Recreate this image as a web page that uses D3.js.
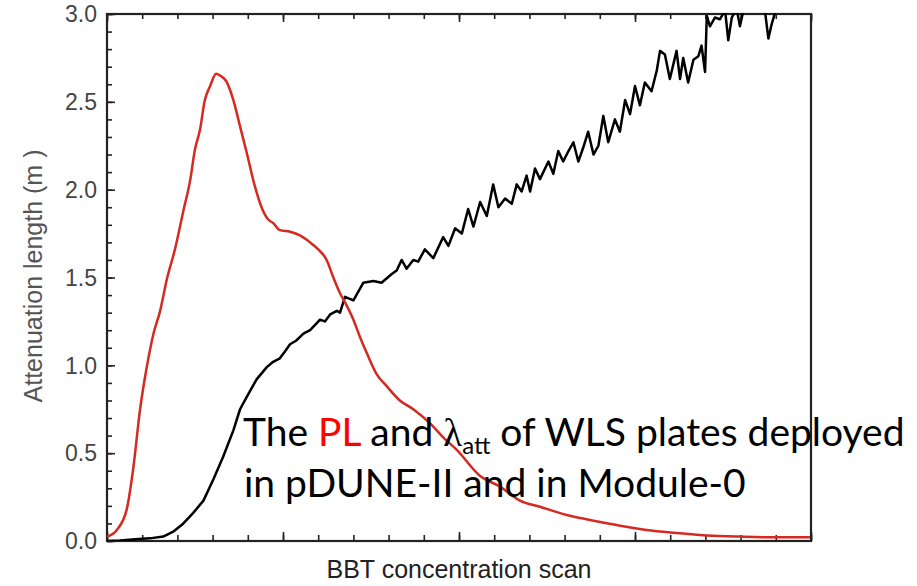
<!DOCTYPE html>
<html><head><meta charset="utf-8">
<script src="https://cdn.jsdelivr.net/npm/d3@7"></script>
<style>html,body{margin:0;padding:0;background:#fff;}svg{display:block;}</style>
</head><body>
<svg id="chart" width="917" height="586"></svg>
<script>
// Data (x: position along the BBT concentration scan, arbitrary units 0-20)
const yTickValues = [0, 0.5, 1.0, 1.5, 2.0, 2.5, 3.0];
const yTickLabels = ["0.0", "0.5", "1.0", "1.5", "2.0", "2.5", "3.0"];
const xMajorTicks = [0, 5, 10, 15, 20];
const plX = [0.00,0.28,0.56,0.75,0.94,1.13,1.32,1.51,1.70,1.93,2.17,2.36,2.50,2.64,2.78,2.93,3.10,3.21,3.38,3.59,3.78,3.97,4.20,4.39,4.58,4.72,4.91,5.20,5.48,5.77,6.00,6.24,6.43,6.62,6.81,7.00,7.19,7.38,7.66,7.95,8.32,8.70,9.18,9.55,9.93,10.60,11.16,11.73,12.30,13.06,13.72,14.48,15.33,16.09,17.04,17.98,18.93,19.97];
const plY = [0.025,0.063,0.18,0.42,0.75,0.99,1.18,1.31,1.49,1.66,1.88,2.05,2.23,2.34,2.51,2.59,2.66,2.65,2.62,2.51,2.36,2.21,2.02,1.90,1.83,1.81,1.77,1.76,1.74,1.70,1.66,1.60,1.50,1.41,1.34,1.26,1.16,1.07,0.95,0.88,0.80,0.75,0.67,0.59,0.52,0.37,0.31,0.23,0.195,0.148,0.12,0.091,0.063,0.047,0.032,0.025,0.021,0.021];
const attX = [0,0.37,0.80,1.22,1.60,1.88,2.17,2.45,2.74,3.02,3.30,3.59,3.78,3.97,4.25,4.54,4.72,4.91,5.06,5.20,5.37,5.58,5.77,5.96,6.05,6.19,6.34,6.53,6.62,6.76,7.00,7.28,7.57,7.80,8.09,8.23,8.37,8.51,8.70,8.84,9.03,9.27,9.55,9.70,9.89,10.08,10.26,10.41,10.60,10.79,10.97,11.12,11.31,11.50,11.64,11.78,11.92,12.02,12.16,12.30,12.54,12.68,12.82,12.96,13.11,13.25,13.39,13.53,13.67,13.82,13.96,14.10,14.24,14.43,14.57,14.72,14.86,15.00,15.14,15.28,15.47,15.62,15.71,15.85,15.99,16.18,16.28,16.37,16.51,16.66,16.80,16.89,16.99,17.04,17.13,17.27,17.41,17.56,17.65,17.75,17.89,17.98,18.08,18.27,18.49,18.69,18.79,18.88,19.01,19.26,19.55,19.83,20.00];
const attY = [0,0.003,0.01,0.015,0.025,0.053,0.10,0.16,0.23,0.35,0.48,0.63,0.75,0.82,0.92,0.99,1.02,1.04,1.08,1.12,1.14,1.18,1.20,1.24,1.26,1.25,1.29,1.31,1.30,1.39,1.37,1.47,1.48,1.47,1.52,1.54,1.60,1.55,1.60,1.59,1.66,1.61,1.73,1.68,1.78,1.75,1.89,1.79,1.93,1.85,2.03,1.90,1.95,1.92,2.03,1.99,2.08,1.99,2.12,2.06,2.16,2.09,2.22,2.16,2.22,2.27,2.16,2.24,2.33,2.20,2.25,2.42,2.27,2.40,2.33,2.51,2.43,2.59,2.48,2.61,2.56,2.68,2.79,2.77,2.63,2.79,2.63,2.75,2.61,2.74,2.76,2.82,2.67,2.99,2.93,2.98,2.97,3.02,2.85,2.98,3.03,2.93,3.02,3.10,3.08,3.02,2.86,2.94,3.03,3.12,3.15,3.18,3.20];
const xLabel = "BBT concentration scan";
const yLabel = "Attenuation length (m )";

const svg = d3.select("#chart");
const m = {left:107, right:811, top:14, bottom:541};
const x = d3.scaleLinear().domain([0,20]).range([m.left, m.right]);
const y = d3.scaleLinear().domain([0,3]).range([m.bottom, m.top]);

svg.append("defs").append("clipPath").attr("id","clip")
  .append("rect").attr("x",m.left).attr("y",m.top-1).attr("width",m.right-m.left).attr("height",m.bottom-m.top+1);

const axisColor = "#222";
function styleAxis(g){ g.select(".domain").remove(); g.selectAll("line").attr("stroke",axisColor).attr("stroke-width",1.6); g.selectAll("text").remove(); }

svg.append("g").attr("transform",`translate(${m.left},0)`)
  .call(d3.axisLeft(y).tickValues(d3.range(0,3.001,0.1)).tickSize(-5)).call(styleAxis);
svg.append("g").attr("transform",`translate(${m.left},0)`)
  .call(d3.axisLeft(y).tickValues(yTickValues).tickSize(-8)).call(styleAxis);
svg.append("g").attr("transform",`translate(0,${m.top})`)
  .call(d3.axisTop(x).tickValues(d3.range(0,20.001,1)).tickSize(-5)).call(styleAxis);
svg.append("g").attr("transform",`translate(0,${m.top})`)
  .call(d3.axisTop(x).tickValues(xMajorTicks).tickSize(-8)).call(styleAxis);
svg.append("g").attr("transform",`translate(0,${m.bottom})`)
  .call(d3.axisBottom(x).tickValues(d3.range(0,20.001,1)).tickSize(-6)).call(styleAxis);
svg.append("g").attr("transform",`translate(0,${m.bottom})`)
  .call(d3.axisBottom(x).tickValues(xMajorTicks).tickSize(-9)).call(styleAxis);

svg.append("rect").attr("x",m.left).attr("y",m.top).attr("width",m.right-m.left).attr("height",m.bottom-m.top)
  .attr("fill","none").attr("stroke",axisColor).attr("stroke-width",2.2);

svg.append("g").selectAll("text").data(yTickValues).join("text")
  .attr("x",m.left-10).attr("y",d=>y(d)).attr("dy","0.36em").attr("text-anchor","end")
  .attr("font-family","Liberation Sans, Arial, sans-serif").attr("font-size",23).attr("fill","#444")
  .text((d,i)=>yTickLabels[i]);

svg.append("text").attr("transform",`translate(42,${276}) rotate(-90)`)
  .attr("text-anchor","middle").attr("font-family","Liberation Sans, Arial, sans-serif").attr("font-size",25).attr("fill","#555")
  .text(yLabel);
svg.append("text").attr("x",459).attr("y",578).attr("text-anchor","middle")
  .attr("font-family","Liberation Sans, Arial, sans-serif").attr("font-size",25).attr("fill","#222")
  .text(xLabel);

const line = d3.line().x(d=>x(d[0])).y(d=>y(d[1]));
const plData = plX.map((v,i)=>[v,plY[i]]);
const attData = attX.map((v,i)=>[v,attY[i]]);
const gl = svg.append("g").attr("clip-path","url(#clip)");
gl.append("path").datum(attData).attr("d",line).attr("fill","none").attr("stroke","#000").attr("stroke-width",2.5).attr("stroke-linejoin","round");
gl.append("path").datum(plData).attr("d",line.curve(d3.curveMonotoneX)).attr("fill","none").attr("stroke","#d42a22").attr("stroke-width",2.5);

const ann = svg.append("g").attr("font-family","Lato, 'Open Sans', sans-serif").attr("font-size",39).attr("fill","#000");
const t1 = ann.append("text").attr("x",243).attr("y",446);
t1.append("tspan").text("The ");
t1.append("tspan").attr("fill","#ff0000").text("PL");
t1.append("tspan").text(" and ");
t1.append("tspan").attr("font-family","'Liberation Serif', 'DejaVu Serif', serif").text("λ");
t1.append("tspan").attr("font-size",24).attr("dy",8).text("att");
t1.append("tspan").attr("dy",-8).text(" of WLS plates deployed");
ann.append("text").attr("x",244).attr("y",497).text("in pDUNE-II and in Module-0");
</script>
</body></html>
